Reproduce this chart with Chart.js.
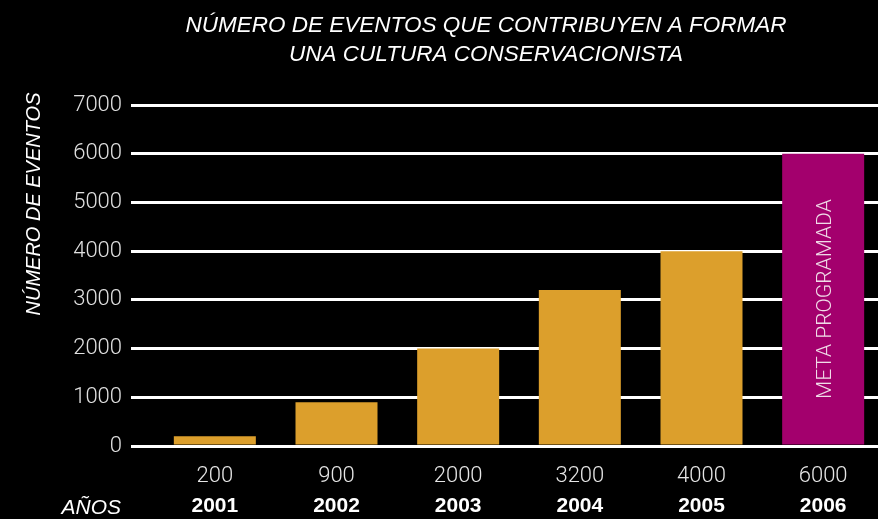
<!DOCTYPE html>
<html>
<head>
<meta charset="utf-8">
<script src="https://cdn.jsdelivr.net/npm/chart.js@4"></script>
<style>
  html, body { margin: 0; padding: 0; background: #000; overflow: hidden; }
  #wrap { width: 884px; height: 519px; position: relative; }
</style>
</head>
<body>
<div id="wrap"><canvas id="chart-eventos"></canvas></div>
<script>
const years = ["2001", "2002", "2003", "2004", "2005", "2006"];
const eventos = [200, 900, 2000, 3200, 4000, 6000];
const valueLabels = ["200", "900", "2000", "3200", "4000", "6000"];
const barColors = ["#dc9f2c", "#dc9f2c", "#dc9f2c", "#dc9f2c", "#dc9f2c", "#a3006d"];
const titleLines = ["NÚMERO DE EVENTOS QUE CONTRIBUYEN A FORMAR", "UNA CULTURA CONSERVACIONISTA"];
const metaText = "META PROGRAMADA";

const SANS = "'Liberation Sans', Arial, sans-serif";
const LIGHT = "Roboto, 'Liberation Sans', sans-serif";

// texts around the plot: title, axis names, the two label rows and the meta note
const extraText = {
  id: "extraText",
  afterDatasetsDraw(chart) {
    const ctx = chart.ctx;
    const x = chart.scales.x;
    ctx.save();
    ctx.fillStyle = "#fff";
    ctx.textAlign = "center";
    ctx.textBaseline = "middle";
    ctx.font = "italic 400 22.5px " + SANS;
    ctx.fillText(titleLines[0], 486, 26);
    ctx.fillText(titleLines[1], 486, 55);

    ctx.font = "italic 400 21px " + SANS;
    ctx.textAlign = "right";
    ctx.fillText("AÑOS", 121, 508);

    ctx.save();
    ctx.translate(34, 204);
    ctx.rotate(-Math.PI / 2);
    ctx.textAlign = "center";
    ctx.font = "italic 400 20px " + SANS;
    ctx.fillText("NÚMERO DE EVENTOS", 0, 0);
    ctx.restore();

    ctx.textAlign = "center";
    years.forEach((yr, i) => {
      const px = x.getPixelForValue(i);
      ctx.fillStyle = "#e6e6e6";
      ctx.font = "300 22px " + LIGHT;
      ctx.fillText(valueLabels[i], px, 476);
      ctx.fillStyle = "#fff";
      ctx.font = "700 21px " + SANS;
      ctx.fillText(yr, px, 506);
    });

    // meta label inside the last bar
    const last = chart.getDatasetMeta(0).data[eventos.length - 1];
    ctx.save();
    ctx.translate(last.x + 3, (last.y + last.base) / 2);
    ctx.rotate(-Math.PI / 2);
    ctx.fillStyle = "#f0dce8";
    ctx.font = "300 21px " + LIGHT;
    ctx.fillText(metaText, 0, 0);
    ctx.restore();
    ctx.restore();
  }
};

new Chart(document.getElementById("chart-eventos"), {
  type: "bar",
  data: {
    labels: years,
    datasets: [{
      data: eventos,
      backgroundColor: barColors,
      borderWidth: 0,
      categoryPercentage: 1,
      barPercentage: 0.674
    }]
  },
  options: {
    responsive: true,
    maintainAspectRatio: false,
    animation: false,
    layout: { padding: { top: 105, bottom: 73, left: 0, right: 0 } },
    plugins: { legend: { display: false }, tooltip: { enabled: false }, title: { display: false } },
    scales: {
      x: { display: false },
      y: {
        min: 0,
        max: 7000,
        ticks: {
          stepSize: 1000,
          color: "#e0e0e0",
          padding: 9,
          font: { family: LIGHT, size: 22, weight: 300 },
          callback: (v) => String(v)
        },
        grid: { color: "#fff", lineWidth: 3, tickLength: 23, drawTicks: true },
        border: { display: false },
        afterFit(scale) { scale.width = 154; }
      }
    }
  },
  plugins: [extraText]
});
</script>
</body>
</html>
